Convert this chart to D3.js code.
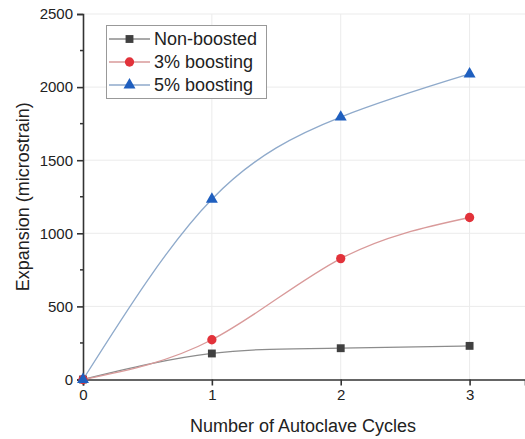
<!DOCTYPE html>
<html>
<head>
<meta charset="utf-8">
<script src="https://cdn.jsdelivr.net/npm/d3@7"></script>
<style>
  body { margin: 0; background: #fff; }
  text { font-family: "Liberation Sans", Arial, sans-serif; fill: #222; }
</style>
</head>
<body>
<script>
const width = 525;
const height = 439;

// data
const cycles = [0, 1, 2, 3];
const nonBoosted = [0, 178, 214, 230];
const boost3 = [0, 272, 827, 1108];
const boost5 = [0, 1233, 1795, 2090];
const seriesNames = ['Non-boosted', '3% boosting', '5% boosting'];
const yTicks = [0, 500, 1000, 1500, 2000, 2500];
const xTicks = [0, 1, 2, 3];

const series = [
    { name: seriesNames[0], values: nonBoosted, line: '#8c8c8c', fill: '#404040', shape: d3.symbolSquare, size: 62 },
    { name: seriesNames[1], values: boost3, line: '#d99a9a', fill: '#e2323a', shape: d3.symbolCircle, size: 68 },
    { name: seriesNames[2], values: boost5, line: '#8faacb', fill: '#1f5fbf', shape: d3.symbolTriangle, size: 62 }
];

const svg = d3.select('body').append('svg').attr('width', width).attr('height', height);

const x = d3.scaleLinear().domain([0, 3.43]).range([83, 525]);
const y = d3.scaleLinear().domain([0, 2500]).range([379.5, 14]);

// faint grid
svg.append('g').selectAll('line.gx')
    .data(xTicks.slice(1)).enter().append('line')
    .attr('x1', d => x(d)).attr('x2', d => x(d))
    .attr('y1', y(2500)).attr('y2', y(0))
    .attr('stroke', '#ebebeb').attr('stroke-width', 1);
svg.append('g').selectAll('line.gy')
    .data(yTicks.slice(1)).enter().append('line')
    .attr('x1', x(0)).attr('x2', width)
    .attr('y1', d => y(d)).attr('y2', d => y(d))
    .attr('stroke', '#ebebeb').attr('stroke-width', 1);

// axes
const xAxis = svg.append('g')
    .attr('transform', `translate(0,${y(0)})`)
    .call(d3.axisBottom(x).tickValues(xTicks).tickFormat(d3.format('d')).tickSizeOuter(0).tickSize(6).tickPadding(4));
const yAxis = svg.append('g')
    .attr('transform', `translate(${x(0)},0)`)
    .call(d3.axisLeft(y).tickValues(yTicks).tickFormat(d3.format('d')).tickSizeOuter(0).tickSize(6).tickPadding(4));

// minor y ticks
yAxis.selectAll('line.minor')
    .data([250, 750, 1250, 1750, 2250]).enter().append('line')
    .attr('x1', 0).attr('x2', -3)
    .attr('y1', d => y(d)).attr('y2', d => y(d))
    .attr('stroke', '#333').attr('stroke-width', 1.5);

[xAxis, yAxis].forEach(a => {
    a.select('.domain').attr('stroke', '#333').attr('stroke-width', 1.6);
    a.selectAll('.tick line').attr('stroke', '#333').attr('stroke-width', 1.6);
    a.selectAll('.tick text').style('font-size', '15px').attr('fill', '#222');
});

svg.append('text')
    .attr('x', 303).attr('y', 432)
    .attr('text-anchor', 'middle')
    .style('font-size', '18px')
    .text('Number of Autoclave Cycles');

svg.append('text')
    .attr('transform', `translate(29,${(y(0) + y(2500)) / 2}) rotate(-90)`)
    .attr('text-anchor', 'middle')
    .style('font-size', '18px')
    .text('Expansion (microstrain)');

// lines and markers
const line = d3.line()
    .x((d, i) => x(cycles[i]))
    .y(d => y(d))
    .curve(d3.curveNatural);

series.forEach(s => {
    svg.append('path')
        .attr('d', line(s.values))
        .attr('fill', 'none')
        .attr('stroke', s.line)
        .attr('stroke-width', 1.3);
});

series.forEach(s => {
    svg.append('g').selectAll('path')
        .data(s.values).enter().append('path')
        .attr('transform', (d, i) => `translate(${x(cycles[i])},${y(d)})`)
        .attr('d', d3.symbol().type(s.shape).size(s.size))
        .attr('fill', s.fill);
});

// legend
const legend = svg.append('g');
legend.append('rect')
    .attr('x', 106.5).attr('y', 25.5)
    .attr('width', 160).attr('height', 73)
    .attr('fill', '#fff')
    .attr('stroke', '#999').attr('stroke-width', 1);

const rows = legend.selectAll('g.row')
    .data(series).enter().append('g')
    .attr('transform', (d, i) => `translate(0,${39 + i * 23})`);
rows.append('line')
    .attr('x1', 109).attr('x2', 150)
    .attr('stroke', d => d.line).attr('stroke-width', 1.3);
rows.append('path')
    .attr('transform', 'translate(129.5,0)')
    .attr('d', d => d3.symbol().type(d.shape).size(d.size)())
    .attr('fill', d => d.fill);
rows.append('text')
    .attr('x', 154).attr('y', 0)
    .attr('dy', '0.35em')
    .style('font-size', '18px')
    .text(d => d.name);
</script>
</body>
</html>
